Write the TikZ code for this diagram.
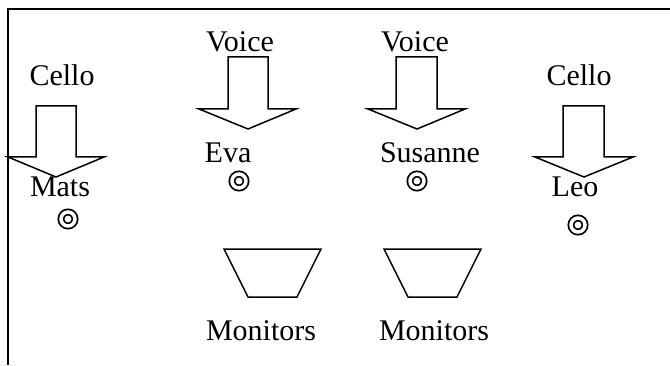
\documentclass[tikz,border=0pt]{standalone}
\usepackage{fontspec}
\setmainfont{Liberation Serif}

\begin{document}
\begin{tikzpicture}[x=0.4pt, y=-0.4pt, line width=0.6pt,
	lbl/.style={font=\fontsize{12}{14}\selectfont, inner sep=0pt, anchor=base},
	mic/.style={circle, draw, double, double distance=1.4pt, line width=0.7pt, minimum size=5.6pt, inner sep=0pt}]
	\useasboundingbox (0,0) rectangle (670,365);

	% frame
	\draw[line width=0.7pt] (670,9) -- (8,9) -- (8,365);

	% Mats
	\node[lbl] (cello-l) at (62,86) {Cello};
	\draw (36,106) -- (76,106) -- (76,157) -- (104,157) -- (56,177) -- (8,157) -- (36,157) -- cycle;
	\node[lbl] (mats) at (60,197) {Mats};
	\node[mic] (mats-mic) at (68,219) {};

	% Eva
	\node[lbl] (voice-l) at (240,52) {Voice};
	\draw (228,57) -- (268,57) -- (268,109) -- (296,109) -- (248,129) -- (199,109) -- (228,109) -- cycle;
	\node[lbl] (eva) at (228,163) {Eva};
	\node[mic] (eva-mic) at (239,181) {};

	% Susanne
	\node[lbl] (voice-r) at (415,52) {Voice};
	\draw (396,57) -- (437,57) -- (437,109) -- (465,109) -- (417,129) -- (368,109) -- (396,109) -- cycle;
	\node[lbl] (susanne) at (430,162) {Susanne};
	\node[mic] (susanne-mic) at (417,181) {};

	% Leo
	\node[lbl] (cello-r) at (579,86) {Cello};
	\draw (563,106) -- (604,106) -- (604,157) -- (633,157) -- (584,177) -- (535,157) -- (563,157) -- cycle;
	\node[lbl] (leo) at (575,197) {Leo};
	\node[mic] (leo-mic) at (578,225) {};

	% monitors
	\draw (224,249) -- (321,249) -- (297,297) -- (248,297) -- cycle;
	\node[lbl] (mon-l) at (261,340) {Monitors};
	\draw (384,249) -- (481,249) -- (457,297) -- (408,297) -- cycle;
	\node[lbl] (mon-r) at (434,340) {Monitors};
\end{tikzpicture}
\end{document}
